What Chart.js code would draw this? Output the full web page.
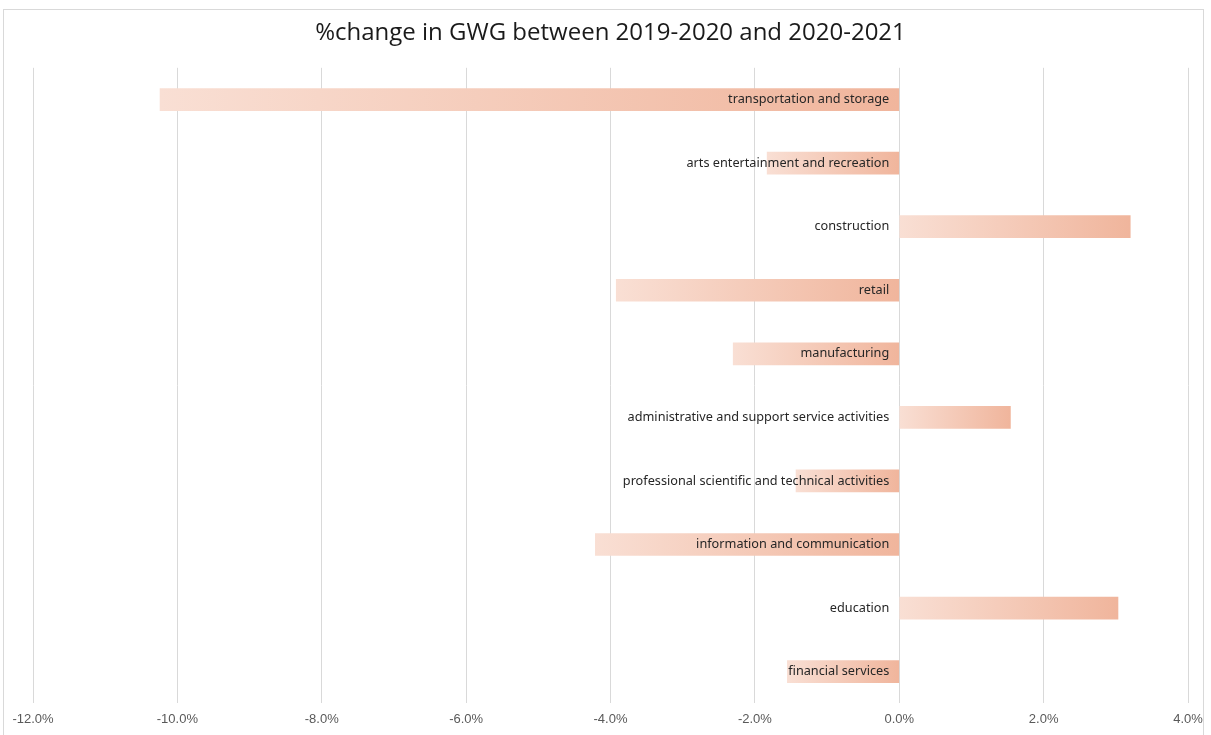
<!DOCTYPE html>
<html>
<head>
<meta charset="utf-8">
<script src="https://cdn.jsdelivr.net/npm/chart.js@4/dist/chart.umd.min.js"></script>
<style>
  html, body { margin: 0; padding: 0; background: #ffffff; }
  body { width: 1211px; height: 735px; position: relative; overflow: hidden; }
  #frame { position: absolute; left: 3px; top: 9px; width: 1201px; height: 740px; border: 1px solid #d9d9d9; box-sizing: border-box; }
  #wrap { position: absolute; left: 0; top: 0; width: 1211px; height: 735px; }
</style>
</head>
<body>
<div id="frame"></div>
<div id="wrap"><canvas id="chart"></canvas></div>
<script>
// Sectors, top to bottom
const sectors = [
  'transportation and storage',
  'arts entertainment and recreation',
  'construction',
  'retail',
  'manufacturing',
  'administrative and support service activities',
  'professional scientific and technical activities',
  'information and communication',
  'education',
  'financial services'
];

// % change in the gender wage gap, 2019-2020 vs 2020-2021
const pctChange = [-10.24, -1.83, 3.20, -3.92, -2.30, 1.54, -1.43, -4.21, 3.03, -1.55];

// x-axis range and step (percent)
const xMin = -12;
const xMax = 4;
const xStep = 2;

const titleText = '%change in GWG between 2019-2020 and 2020-2021';

// Each bar fades from pale peach on its left edge to deeper peach on its right
function barGradient(ctx) {
  const chart = ctx.chart;
  const x = chart.scales.x;
  if (!x || ctx.type !== 'data') return 'rgb(244,200,180)';
  const v = ctx.parsed ? ctx.parsed.x : ctx.raw;
  const p0 = x.getPixelForValue(0);
  const p1 = x.getPixelForValue(v);
  const left = Math.min(p0, p1), right = Math.max(p0, p1);
  if (!isFinite(left) || right - left < 1) return 'rgb(244,200,180)';
  const g = chart.ctx.createLinearGradient(left, 0, right, 0);
  g.addColorStop(0, 'rgb(249,223,212)');
  g.addColorStop(1, 'rgb(240,181,156)');
  return g;
}

// Sector names sit just left of the zero line, on top of the bars
const zeroLineLabels = {
  id: 'zeroLineLabels',
  afterDatasetsDraw(chart) {
    const { ctx, scales: { x, y } } = chart;
    const x0 = x.getPixelForValue(0) - 10;
    ctx.save();
    ctx.font = "12.7px 'Noto Sans', sans-serif";
    ctx.fillStyle = '#262626';
    ctx.textAlign = 'right';
    ctx.textBaseline = 'middle';
    chart.data.labels.forEach((lab, i) => {
      ctx.fillText(lab, x0, y.getPixelForTick(i));
    });
    ctx.restore();
  }
};

new Chart(document.getElementById('chart'), {
  type: 'bar',
  data: {
    labels: sectors,
    datasets: [{
      data: pctChange,
      backgroundColor: barGradient,
      borderWidth: 0,
      barThickness: 22
    }]
  },
  options: {
    indexAxis: 'y',
    responsive: true,
    maintainAspectRatio: false,
    animation: false,
    layout: { padding: { left: 33, right: 23, top: 0, bottom: 0 } },
    plugins: {
      legend: { display: false },
      tooltip: { enabled: false },
      title: {
        display: true,
        text: titleText,
        color: '#1a1a1a',
        font: { family: "'Open Sans', 'DejaVu Sans', sans-serif", size: 24, weight: 'normal' },
        padding: { top: 19, bottom: 20 }
      }
    },
    scales: {
      x: {
        type: 'linear',
        position: 'bottom',
        min: xMin,
        max: xMax,
        ticks: {
          stepSize: xStep,
          padding: 8,
          color: '#595959',
          font: { family: "'Liberation Sans Narrow', 'Liberation Sans', sans-serif", size: 13 },
          callback: (v) => Number(v).toFixed(1) + '%'
        },
        grid: { color: '#d9d9d9', lineWidth: 1, drawTicks: false },
        border: { display: false }
      },
      y: {
        display: false
      }
    }
  },
  plugins: [zeroLineLabels]
});
</script>
</body>
</html>
